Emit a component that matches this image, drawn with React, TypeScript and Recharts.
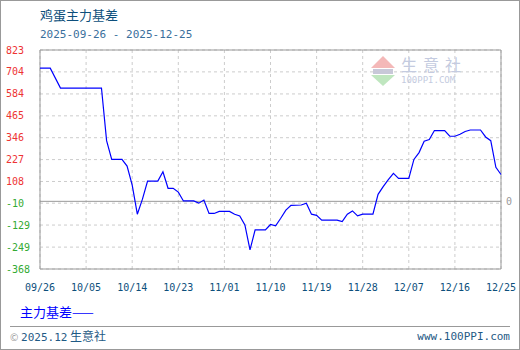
import { LineChart, Line, XAxis, YAxis, CartesianGrid, ReferenceLine, ReferenceArea } from "recharts";

// 鸡蛋主力基差 2025-09-26 ~ 2025-12-25
const dates = [
  "2025-09-26", "2025-09-28", "2025-09-30", "2025-10-08", "2025-10-09", "2025-10-10", "2025-10-12",
  "2025-10-13", "2025-10-14", "2025-10-15", "2025-10-16", "2025-10-17", "2025-10-19", "2025-10-20",
  "2025-10-21", "2025-10-22", "2025-10-23", "2025-10-24", "2025-10-26", "2025-10-27", "2025-10-28",
  "2025-10-29", "2025-10-30", "2025-10-31", "2025-11-02", "2025-11-03", "2025-11-04", "2025-11-05",
  "2025-11-06", "2025-11-07", "2025-11-09", "2025-11-10", "2025-11-11", "2025-11-12", "2025-11-13",
  "2025-11-14", "2025-11-16", "2025-11-17", "2025-11-18", "2025-11-19", "2025-11-20", "2025-11-23",
  "2025-11-24", "2025-11-25", "2025-11-26", "2025-11-27", "2025-11-28", "2025-11-30", "2025-12-01",
  "2025-12-02", "2025-12-03", "2025-12-04", "2025-12-05", "2025-12-07", "2025-12-08", "2025-12-09",
  "2025-12-10", "2025-12-11", "2025-12-12", "2025-12-14", "2025-12-15", "2025-12-16", "2025-12-17",
  "2025-12-18", "2025-12-19", "2025-12-21", "2025-12-22", "2025-12-23", "2025-12-24", "2025-12-25",
];

const basis = [
  724, 724, 616, 616, 330, 228, 228,
  192, 88, -70, 12, 110, 110, 161,
  71, 71, 50, 2, 2, -10, 7,
  -66, -66, -55, -55, -70, -80, -128,
  -264, -155, -155, -126, -133, -92, -48,
  -22, -20, -10, -70, -76, -102, -102,
  -110, -70, -52, -79, -70, -70, 38,
  80, 118, 152, 125, 125, 228, 265,
  327, 336, 385, 385, 354, 354, 365,
  380, 388, 388, 350, 330, 185, 146,
];

const yTicks = [823, 704, 584, 465, 346, 227, 108, -10, -129, -249, -368];
const xTickLabels = ["09/26", "10/05", "10/14", "10/23", "11/01", "11/10", "11/19", "11/28", "12/07", "12/16", "12/25"];

const DAY = 86400000;
const start = Date.parse(dates[0]);
const toDay = (iso: string) => Math.round((Date.parse(iso) - start) / DAY);

const data = dates.map((d, i) => ({ day: toDay(d), basis: basis[i] }));
const xTicks = xTickLabels.map((l) => toDay("2025-" + l.replace("/", "-")));
const xLabelOf: Record<number, string> = {};
xTicks.forEach((t, i) => (xLabelOf[t] = xTickLabels[i]));

const mono = '"DejaVu Sans Mono", monospace';
const cjk = '"Noto Sans CJK SC", sans-serif';

function YTick(props: any) {
  const v = props.payload.value;
  return (
    <text x={5} y={props.y} dy="0.35em" fontSize={10} fontFamily={mono} fill={v >= 0 ? "#ee3333" : "#33aa33"} textAnchor="start">
      {v}
    </text>
  );
}

function XTick(props: any) {
  return (
    <text x={props.x} y={props.y + 14} fontSize={10} fontFamily={mono} fill="#0d4f7c" textAnchor="middle">
      {xLabelOf[props.payload.value]}
    </text>
  );
}

export default function App() {
  return (
    <div style={{ position: "absolute", left: 0, top: 0, width: 520, height: 350, background: "#fff", boxSizing: "border-box", border: "1px solid #999" }}>
      <div style={{ position: "absolute", left: 39, top: 6, fontFamily: cjk, fontSize: 13, color: "#0d4f7c", lineHeight: "16px" }}>鸡蛋主力基差</div>
      <div style={{ position: "absolute", left: 39, top: 27, fontFamily: mono, fontSize: 11, color: "#3a6f9c", lineHeight: "14px" }}>2025-09-26 - 2025-12-25</div>

      <div style={{ position: "absolute", left: 0, top: 0 }}>
        <LineChart width={518} height={348} data={data} margin={{ top: 49, right: 18, bottom: 50, left: 0 }}>
          <CartesianGrid strokeDasharray="3 3" stroke="#cccccc" />
          <ReferenceArea x1={0} x2={90} y1={-368} y2={823} fill="none" stroke="#999999" />
          <XAxis
            dataKey="day"
            type="number"
            domain={[0, 90]}
            ticks={xTicks}
            interval={0}
            axisLine={false}
            tickLine={false}
            height={30}
            tick={<XTick />}
          />
          <YAxis
            type="number"
            domain={[-368, 823]}
            ticks={yTicks}
            interval={0}
            axisLine={false}
            tickLine={false}
            width={39}
            allowDataOverflow
            tick={<YTick />}
          />
          <ReferenceLine y={0} stroke="#999999" label={{ value: "0", position: "right", fill: "#999999", fontSize: 10, fontFamily: mono }} />
          <Line type="linear" dataKey="basis" stroke="#0000ff" strokeWidth={1.2} dot={false} isAnimationActive={false} />
        </LineChart>
      </div>

      {/* watermark */}
      <svg style={{ position: "absolute", left: 370, top: 53 }} width={26} height={34}>
        <polygon points="12,2 24,14 0,14" fill="#f4b8b8" />
        <rect x={2} y={15} width={20} height={5} fill="#c8c8d8" />
        <polygon points="0,21 24,21 12,32" fill="#bfe6bf" />
      </svg>
      <div style={{ position: "absolute", left: 400, top: 55, fontFamily: cjk, fontSize: 16, color: "#c4cbe0", letterSpacing: 6, lineHeight: "17px" }}>生意社</div>
      <div style={{ position: "absolute", left: 400, top: 74, fontFamily: mono, fontSize: 9, color: "#c4cbe0", lineHeight: "11px" }}>100PPI.COM</div>

      <div style={{ position: "absolute", left: 19, top: 303, fontFamily: cjk, fontSize: 13, color: "#0000ff", lineHeight: "16px" }}>主力基差——</div>
      <div style={{ position: "absolute", left: 9, top: 325, width: 500, borderTop: "1px solid #999" }} />
      <div style={{ position: "absolute", left: 9, top: 327, fontFamily: cjk, fontSize: 12, color: "#1f5a85", lineHeight: "16px" }}>
        <span style={{ color: "#999", fontSize: 10 }}>©</span> <span style={{ fontFamily: mono, fontSize: 11 }}>2025.12</span> 生意社
      </div>
      <div style={{ position: "absolute", right: 9, top: 328, fontFamily: mono, fontSize: 11, color: "#1f5a85", lineHeight: "16px" }}>www.100PPI.com</div>
    </div>
  );
}
